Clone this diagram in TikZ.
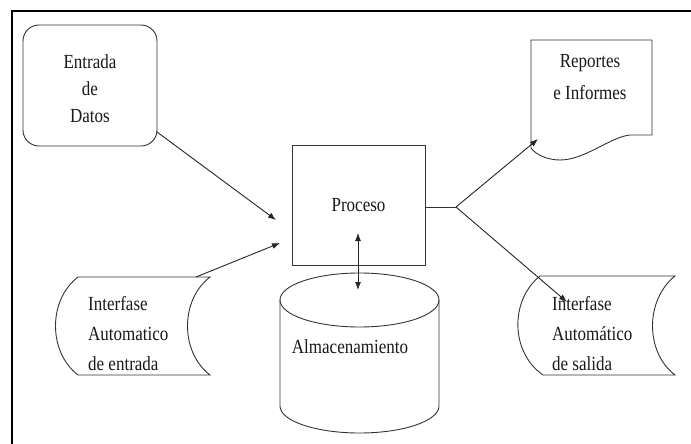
\documentclass[tikz,border=0pt]{standalone}
\usepackage{fontspec}
\setmainfont{Liberation Serif}[FakeStretch=0.85]
\usetikzlibrary{arrows.meta}
\begin{document}
\begin{tikzpicture}[x=1pt,y=-1pt,
  shapeline/.style={draw=black!80, line width=0.9pt},
  lbl/.style={font=\fontsize{20}{27}\selectfont, text=black!90, inner sep=0pt},
  flow/.style={draw=black!85, line width=0.9pt, -{Latex[length=8pt,width=6pt]}},
  biflow/.style={draw=black!85, line width=0.9pt, {Latex[length=8pt,width=6pt]}-{Latex[length=8pt,width=6pt]}},
  frame/.style={draw=black, line width=2pt}]
\useasboundingbox (0,0) rectangle (691,444);
\fill[white] (0,0) rectangle (691,444);
\draw[frame] (12,444) -- (12,11) -- (691,11);

% data entry terminal
\draw[shapeline, rounded corners=16pt] (23,25) rectangle (157,146);
\node[lbl, align=center] (entrada) at (90,89) {Entrada\\de\\Datos};
\coordinate (entradaout) at (157,132);

% process box
\node[shapeline, minimum width=133pt, minimum height=120pt, inner sep=0pt,
      font=\fontsize{20}{27}\selectfont, text=black!90] (proceso) at (358.5,205) {Proceso};
\coordinate (procin1) at (276,220);
\coordinate (procin2) at (280,243);
\coordinate (procdown) at (358,233);
\coordinate (branch) at (456,207);

% report document
\draw[shapeline] (531,148) -- (531,40) -- (652,40) -- (652,135) -- (630,135)
  .. controls (610,137) and (585,160) .. (560,160)
  .. controls (548,160) and (536,155) .. (531,148) -- cycle;
\node[lbl, align=center, font=\fontsize{20}{32}\selectfont] (reportes) at (590,77) {Reportes\\e Informes};
\coordinate (reportesin) at (538,139);

% automatic input interface
\draw[shapeline] (78,277) -- (210,277) .. controls (180,300) and (180,352) .. (210,375)
  -- (78,375) .. controls (48,352) and (48,300) .. (78,277) -- cycle;
\node[lbl, align=left, anchor=west, font=\fontsize{20}{30}\selectfont] (entradaauto) at (88,334) {Interfase\\Automatico\\de entrada};
\coordinate (entradaautoout) at (196,277);

% automatic output interface
\draw[shapeline] (540,276) -- (675,276) .. controls (645,300) and (645,352) .. (675,375)
  -- (543,375) .. controls (510,352) and (510,300) .. (540,276) -- cycle;
\node[lbl, align=left, anchor=west, font=\fontsize{20}{30}\selectfont] (salidaauto) at (552,334) {Interfase\\Automático\\de salida};
\coordinate (salidain) at (567,302);

% storage cylinder
\draw[shapeline] (359.5,300) ellipse [x radius=79.5, y radius=27];
\draw[shapeline] (280,300) -- (280,406) arc[start angle=180, end angle=0, x radius=79.5, y radius=27] -- (439,300);
\node[lbl] (almacen) at (350,347) {Almacenamiento};
\coordinate (almacenup) at (358,290);

% connectors
\draw[flow] (entradaout) -- (procin1);
\draw[flow] (entradaautoout) -- (procin2);
\draw[biflow] (procdown) -- (almacenup);
\draw[shapeline] (proceso.east |- branch) -- (branch);
\draw[flow] (branch) -- (reportesin);
\draw[flow] (branch) -- (salidain);
\end{tikzpicture}
\end{document}
